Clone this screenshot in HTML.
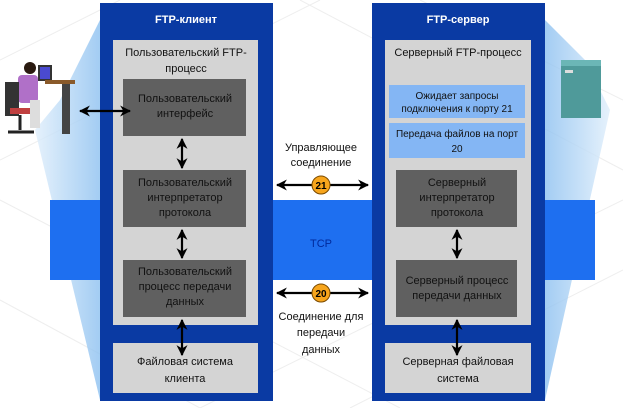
<!DOCTYPE html>
<html><head><meta charset="utf-8"><style>
body{margin:0;background:#fff}
svg{display:block;font-family:"Liberation Sans",sans-serif}
</style></head><body>
<svg width="623" height="408" viewBox="0 0 623 408" xmlns="http://www.w3.org/2000/svg">
<defs>
<marker id="a" viewBox="0 0 10 10" refX="9" refY="5" markerWidth="5" markerHeight="5" orient="auto-start-reverse"><path d="M0,0L10,5L0,10L3,5z" fill="#000"/></marker>
<linearGradient id="gl" x1="0" y1="0" x2="1" y2="0"><stop offset="0" stop-color="#dfeefb"/><stop offset="1" stop-color="#8cc0f0"/></linearGradient>
<linearGradient id="gr" x1="1" y1="0" x2="0" y2="0"><stop offset="0" stop-color="#dfeefb"/><stop offset="1" stop-color="#8cc0f0"/></linearGradient>
</defs>
<g stroke="#eee" stroke-width="1">
<path d="M0,60L120,0M0,160L320,0M200,408L623,200M350,408L623,270M0,300L200,408M300,0L623,170M420,0L623,100M0,200L400,408"/>
</g>
<polygon points="100,20 100,400 35,130 60,100" fill="url(#gl)" opacity="0.8"/>
<polygon points="545,20 545,400 610,110 585,60" fill="url(#gr)" opacity="0.8"/>
<rect x="50" y="200" width="545" height="80" fill="#1e6ff0"/>
<text x="321" y="247" font-size="11" fill="#002a9c" text-anchor="middle">TCP</text>
<rect x="100" y="3" width="173" height="398" fill="#0a3aa3"/>
<text x="186" y="23" font-size="11" font-weight="bold" fill="#fff" text-anchor="middle">FTP-клиент</text>
<rect x="113" y="40" width="145" height="285" fill="#d4d4d4"/>
<text x="186" y="56" font-size="11" fill="#111" text-anchor="middle">Пользовательский FTP-</text>
<text x="186" y="72" font-size="11" fill="#111" text-anchor="middle">процесс</text>
<rect x="123" y="79" width="123" height="57" fill="#606060"/>
<text x="185" y="102" font-size="11" fill="#111" text-anchor="middle">Пользовательский</text>
<text x="185" y="117" font-size="11" fill="#111" text-anchor="middle">интерфейс</text>
<rect x="123" y="170" width="123" height="57" fill="#606060"/>
<text x="185" y="186" font-size="11" fill="#111" text-anchor="middle">Пользовательский</text>
<text x="185" y="201" font-size="11" fill="#111" text-anchor="middle">интерпретатор</text>
<text x="185" y="216" font-size="11" fill="#111" text-anchor="middle">протокола</text>
<rect x="123" y="260" width="123" height="57" fill="#606060"/>
<text x="185" y="275" font-size="11" fill="#111" text-anchor="middle">Пользовательский</text>
<text x="185" y="290" font-size="11" fill="#111" text-anchor="middle">процесс передачи</text>
<text x="185" y="305" font-size="11" fill="#111" text-anchor="middle">данных</text>
<rect x="113" y="343" width="145" height="50" fill="#d4d4d4"/>
<text x="185" y="365" font-size="11" fill="#111" text-anchor="middle">Файловая система</text>
<text x="185" y="382" font-size="11" fill="#111" text-anchor="middle">клиента</text>
<rect x="372" y="3" width="173" height="398" fill="#0a3aa3"/>
<text x="458" y="23" font-size="11" font-weight="bold" fill="#fff" text-anchor="middle">FTP-сервер</text>
<rect x="385" y="40" width="146" height="285" fill="#d4d4d4"/>
<text x="458" y="56" font-size="11" fill="#111" text-anchor="middle">Серверный FTP-процесс</text>
<rect x="389" y="85" width="136" height="33" fill="#84b6f4"/>
<text x="457" y="99" font-size="10" fill="#111" text-anchor="middle">Ожидает запросы</text>
<text x="457" y="112" font-size="10" fill="#111" text-anchor="middle">подключения к порту 21</text>
<rect x="389" y="123" width="136" height="35" fill="#84b6f4"/>
<text x="457" y="137" font-size="10" fill="#111" text-anchor="middle">Передача файлов на порт</text>
<text x="457" y="152" font-size="10" fill="#111" text-anchor="middle">20</text>
<rect x="396" y="170" width="121" height="57" fill="#606060"/>
<text x="457" y="186" font-size="11" fill="#111" text-anchor="middle">Серверный</text>
<text x="457" y="201" font-size="11" fill="#111" text-anchor="middle">интерпретатор</text>
<text x="457" y="216" font-size="11" fill="#111" text-anchor="middle">протокола</text>
<rect x="396" y="260" width="121" height="57" fill="#606060"/>
<text x="457" y="284" font-size="11" fill="#111" text-anchor="middle">Серверный процесс</text>
<text x="457" y="299" font-size="11" fill="#111" text-anchor="middle">передачи данных</text>
<rect x="385" y="343" width="146" height="50" fill="#d4d4d4"/>
<text x="458" y="365" font-size="11" fill="#111" text-anchor="middle">Серверная файловая</text>
<text x="458" y="382" font-size="11" fill="#111" text-anchor="middle">система</text>
<g stroke="#000" stroke-width="2.2" fill="none" marker-start="url(#a)" marker-end="url(#a)">
<line x1="182" y1="139" x2="182" y2="168"/>
<line x1="182" y1="230" x2="182" y2="258"/>
<line x1="182" y1="320" x2="182" y2="355"/>
<line x1="457" y1="230" x2="457" y2="258"/>
<line x1="457" y1="320" x2="457" y2="355"/>
<line x1="80" y1="111" x2="130" y2="111"/>
<line x1="277" y1="185" x2="368" y2="185"/>
<line x1="277" y1="293" x2="368" y2="293"/>
</g>
<circle cx="321" cy="185" r="9" fill="#f7a51c" stroke="#7a4a00"/>
<text x="321" y="189" font-size="10" font-weight="bold" text-anchor="middle">21</text>
<circle cx="321" cy="293" r="9" fill="#f7a51c" stroke="#7a4a00"/>
<text x="321" y="297" font-size="10" font-weight="bold" text-anchor="middle">20</text>
<text x="321" y="151" font-size="11" fill="#111" text-anchor="middle">Управляющее</text>
<text x="321" y="166" font-size="11" fill="#111" text-anchor="middle">соединение</text>
<text x="321" y="320" font-size="11" fill="#111" text-anchor="middle">Соединение для</text>
<text x="321" y="336" font-size="11" fill="#111" text-anchor="middle">передачи</text>
<text x="321" y="353" font-size="11" fill="#111" text-anchor="middle">данных</text>
<rect x="38" y="65" width="14" height="16" fill="#333"/><rect x="40" y="67" width="10" height="12" fill="#4a4ad0"/>
<rect x="45" y="80" width="30" height="4" fill="#8a5a2a"/>
<rect x="62" y="84" width="8" height="50" fill="#444"/>
<circle cx="30" cy="68" r="6" fill="#2a1a10"/>
<rect x="18" y="75" width="20" height="28" rx="4" fill="#b070c8"/>
<rect x="5" y="82" width="14" height="34" fill="#333"/>
<rect x="10" y="108" width="28" height="6" fill="#c04040"/>
<rect x="30" y="100" width="10" height="28" fill="#ddd"/>
<line x1="20" y1="115" x2="20" y2="130" stroke="#222" stroke-width="3"/>
<line x1="8" y1="132" x2="34" y2="132" stroke="#222" stroke-width="3"/>
<rect x="561" y="60" width="40" height="58" fill="#4f9a9a"/>
<rect x="561" y="60" width="40" height="6" fill="#6bb6b6"/>
<rect x="565" y="70" width="8" height="3" fill="#ddd"/>
</svg>
</body></html>
